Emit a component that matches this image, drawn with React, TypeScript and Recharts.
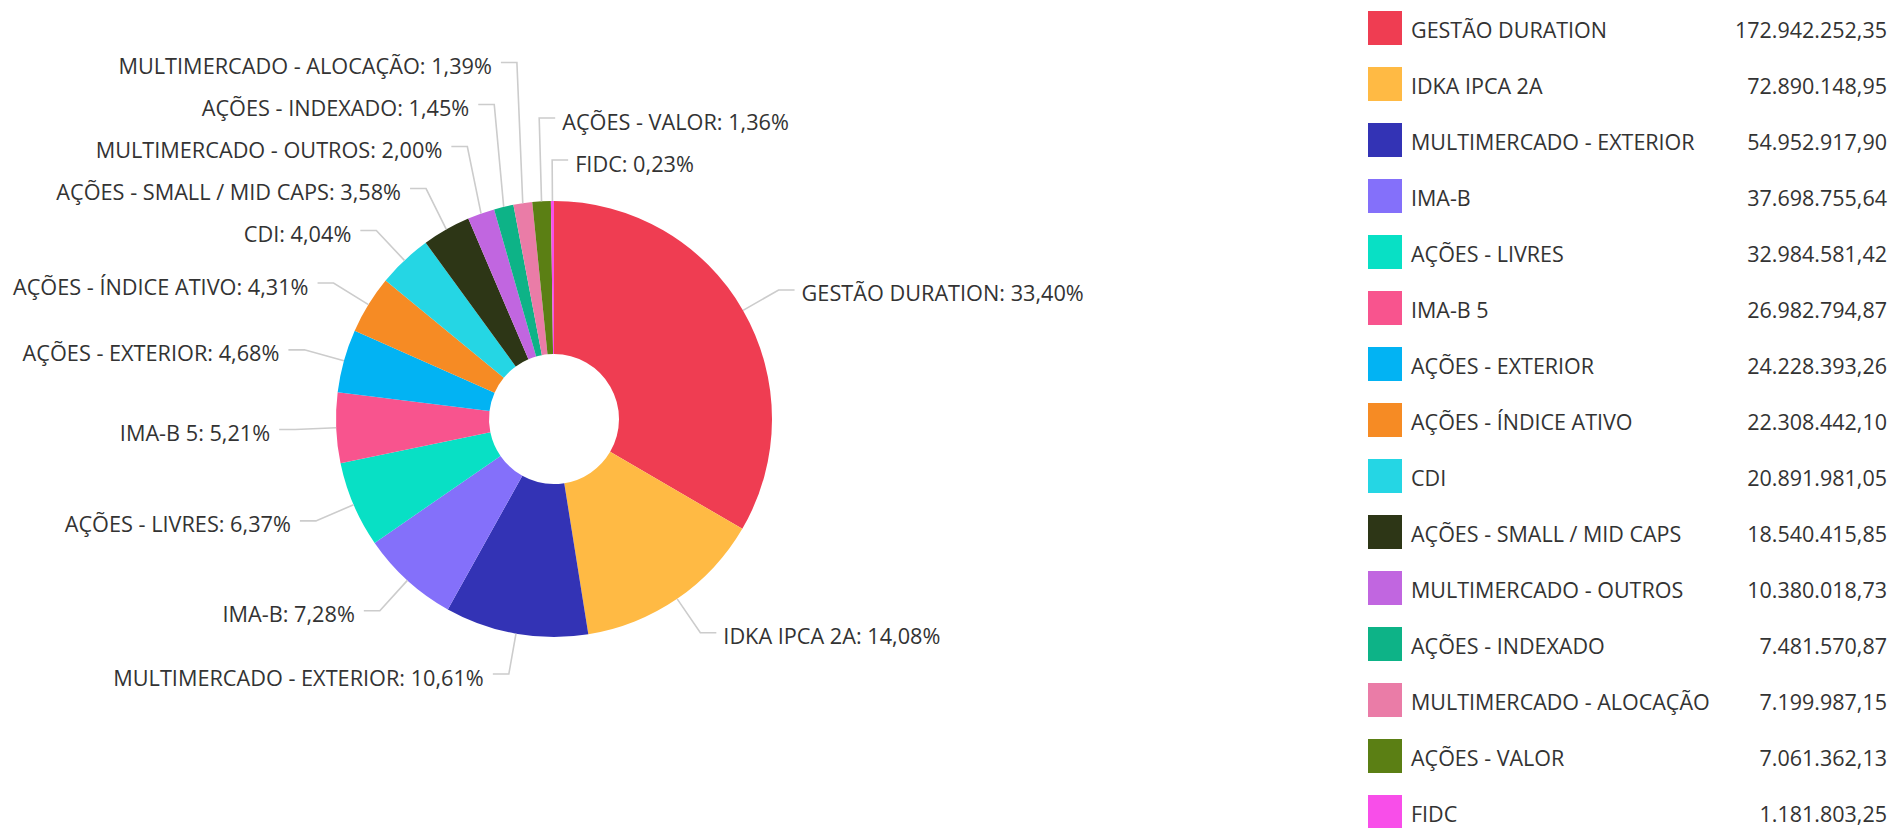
import React from 'react';
import { PieChart, Pie, Cell, Legend } from 'recharts';

const NAMES = [
  'GESTÃO DURATION',
  'IDKA IPCA 2A',
  'MULTIMERCADO - EXTERIOR',
  'IMA-B',
  'AÇÕES - LIVRES',
  'IMA-B 5',
  'AÇÕES - EXTERIOR',
  'AÇÕES - ÍNDICE ATIVO',
  'CDI',
  'AÇÕES - SMALL / MID CAPS',
  'MULTIMERCADO - OUTROS',
  'AÇÕES - INDEXADO',
  'MULTIMERCADO - ALOCAÇÃO',
  'AÇÕES - VALOR',
  'FIDC',
];

const VALUES = [
  172942252.35, 72890148.95, 54952917.9, 37698755.64, 32984581.42, 26982794.87, 24228393.26,
  22308442.1, 20891981.05, 18540415.85, 10380018.73, 7481570.87, 7199987.15, 7061362.13, 1181803.25,
];

const COLORS = [
  '#ef3d52', '#ffba44', '#3333b5', '#8470fa', '#08e0c5', '#f8548e', '#02b3f3', '#f68b24',
  '#25d6e4', '#2d3616', '#c166e0', '#0db387', '#ea7ca7', '#5b7f14', '#f84ee9',
];

const data = NAMES.map((name, i) => ({ name, value: VALUES[i] }));
const total = VALUES.reduce((a, b) => a + b, 0);

const FONT = "'Open Sans', 'Noto Sans', sans-serif";
const LINE_LEN = 41; // first label line segment (radial)
const LINE_LEN2 = 16; // horizontal segment
const ROW_GAP = 42;

// pt-BR number format: 172.942.252,35
const fmtBR = (n: number, d = 2) => {
  const [int, dec] = n.toFixed(d).split('.');
  return int.replace(/\B(?=(\d{3})+(?!\d))/g, '.') + ',' + dec;
};

// place labels around the pie and push overlapping ones upward, per side
function layoutLabels(cx: number, cy: number, r: number) {
  const R = r + LINE_LEN;
  let acc = 0;
  const items = VALUES.map((v, i) => {
    const frac = v / total;
    const t = (acc + frac / 2) * Math.PI * 2;
    acc += frac;
    const s = Math.sin(t);
    const c = Math.cos(t);
    const right = s > -0.07;
    return {
      i,
      right,
      key: right ? (t > Math.PI ? t - Math.PI * 2 : t) : -t,
      ex: cx + r * s,
      ey: cy - r * c,
      kx: cx + R * s,
      y: cy - R * c,
    };
  });
  [true, false].forEach((side) => {
    const list = items.filter((it) => it.right === side).sort((a, b) => a.key - b.key);
    for (let k = list.length - 2; k >= 0; k--) {
      list[k].y = Math.min(list[k].y, list[k + 1].y - ROW_GAP);
    }
  });
  return items;
}

const renderLabel = (props: any) => {
  const { cx, cy, outerRadius, index } = props;
  const it = layoutLabels(cx, cy, outerRadius)[index];
  const dir = it.right ? 1 : -1;
  const ax = it.kx + dir * LINE_LEN2;
  const pct = (VALUES[index] / total) * 100;
  return (
    <g>
      <polyline
        points={`${it.ex},${it.ey} ${it.kx},${it.y} ${ax},${it.y}`}
        fill="none"
        stroke="#cccccc"
        strokeWidth={1.6}
      />
      <text
        x={ax + (it.right ? 7 : -9)}
        y={it.y + 3}
        textAnchor={it.right ? 'start' : 'end'}
        dominantBaseline="central"
        fill="#333"
        fontSize={21.7}
        fontFamily={FONT}
      >
        {`${NAMES[index]}: ${fmtBR(pct)}%`}
      </text>
    </g>
  );
};

const renderLegend = () => (
  <div style={{ fontFamily: FONT, fontSize: 21.5, color: '#333' }}>
    {NAMES.map((name, i) => (
      <div key={name} style={{ display: 'flex', alignItems: 'center', height: 56 }}>
        <div style={{ width: 34, height: 34, background: COLORS[i], flexShrink: 0 }} />
        <span style={{ marginLeft: 9, flex: 1, whiteSpace: 'nowrap', paddingTop: 2 }}>{name}</span>
        <span style={{ whiteSpace: 'nowrap', paddingTop: 2 }}>{fmtBR(VALUES[i])}</span>
      </div>
    ))}
  </div>
);

export default function App() {
  return (
    <div style={{ position: 'absolute', left: 0, top: 0, width: 1892, height: 828, background: '#fff' }}>
      <PieChart width={1892} height={828} margin={{ top: 0, right: 0, bottom: 0, left: 0 }}>
        <Pie
          data={data}
          dataKey="value"
          nameKey="name"
          cx={554}
          cy={419}
          innerRadius={65}
          outerRadius={218}
          startAngle={90}
          endAngle={-270}
          stroke="none"
          label={renderLabel}
          labelLine={false}
          isAnimationActive={false}
        >
          {data.map((d, i) => (
            <Cell key={d.name} fill={COLORS[i]} stroke="none" />
          ))}
        </Pie>
        <Legend
          layout="vertical"
          align="right"
          verticalAlign="top"
          content={renderLegend}
          wrapperStyle={{ left: 1368, right: 'auto', top: 0, width: 519 }}
        />
      </PieChart>
    </div>
  );
}
